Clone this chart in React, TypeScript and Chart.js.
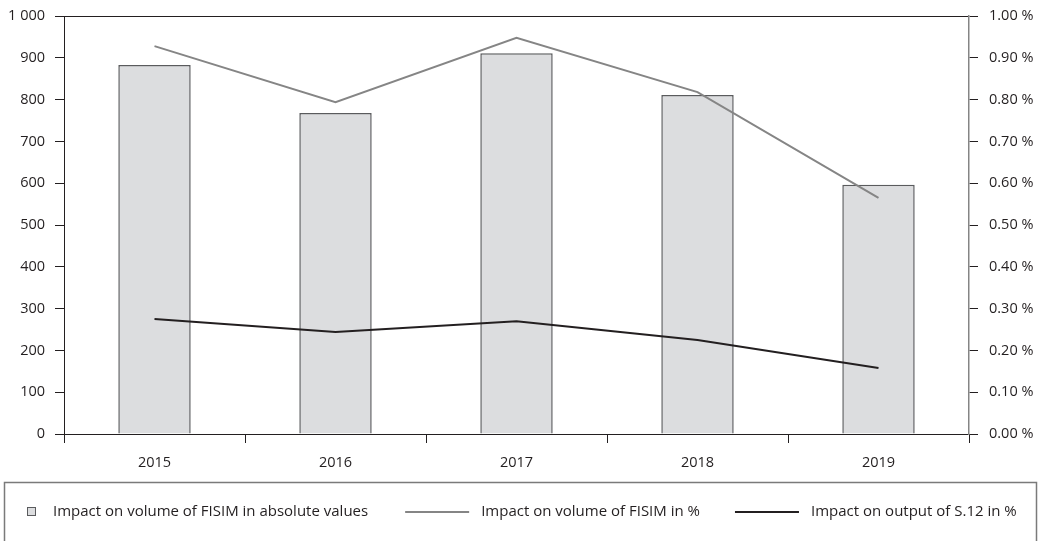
import React, { useEffect, useRef } from "react";
import { Chart, registerables } from "chart.js";

Chart.register(...registerables);

const years = ["2015", "2016", "2017", "2018", "2019"];
const fisimAbsolute = [883, 768, 911, 811, 596];
const fisimPercent = [0.928, 0.794, 0.948, 0.818, 0.565];
const s12Percent = [0.275, 0.244, 0.27, 0.225, 0.158];

const seriesLabels = [
  "Impact on volume of FISIM in absolute values",
  "Impact on volume of FISIM in %",
  "Impact on output of S.12 in %",
];

const FONT = "'Open Sans', sans-serif";
const INK = "#231f20";
const GREY_LINE = "#858585";
const BAR_FILL = "#dcdddf";
const BAR_EDGE = "#5a5b5d";

// Boxed legend drawn under the plot
const boxedLegend = {
  id: "boxedLegend",
  afterDraw(chart: Chart) {
    const ctx = chart.ctx;
    ctx.save();
    ctx.strokeStyle = "#7a7a7a";
    ctx.lineWidth = 1.5;
    ctx.strokeRect(4.5, 482.5, 1032, 90);

    ctx.font = `15px ${FONT}`;
    ctx.fillStyle = INK;
    ctx.textBaseline = "middle";
    const y = 512;
    let x = 27;

    // bar swatch
    ctx.fillStyle = BAR_FILL;
    ctx.fillRect(x, y - 5, 9, 9);
    ctx.strokeStyle = BAR_EDGE;
    ctx.lineWidth = 1;
    ctx.strokeRect(x + 0.5, y - 4.5, 8, 8);
    x = 53;
    ctx.fillStyle = INK;
    ctx.fillText(seriesLabels[0], x, y);
    x += ctx.measureText(seriesLabels[0]).width + 37;

    const lineItems = [
      { color: GREY_LINE, label: seriesLabels[1] },
      { color: INK, label: seriesLabels[2] },
    ];
    lineItems.forEach((it) => {
      ctx.strokeStyle = it.color;
      ctx.lineWidth = 2;
      ctx.beginPath();
      ctx.moveTo(x, y);
      ctx.lineTo(x + 64, y);
      ctx.stroke();
      x += 76;
      ctx.fillStyle = INK;
      ctx.fillText(it.label, x, y);
      x += ctx.measureText(it.label).width + 35;
    });
    ctx.restore();
  },
};

export default function App() {
  const ref = useRef<HTMLCanvasElement>(null);

  useEffect(() => {
    if (!ref.current) return;
    const chart = new Chart(ref.current, {
      type: "bar",
      data: {
        labels: years,
        datasets: [
          {
            type: "bar",
            label: seriesLabels[0],
            data: fisimAbsolute,
            yAxisID: "y",
            backgroundColor: BAR_FILL,
            borderColor: BAR_EDGE,
            borderWidth: 1.5,
            borderSkipped: "bottom",
            barPercentage: 0.4,
            categoryPercentage: 1,
            order: 3,
          },
          {
            type: "line",
            label: seriesLabels[1],
            data: fisimPercent,
            yAxisID: "y1",
            borderColor: GREY_LINE,
            borderWidth: 2,
            pointRadius: 0,
            tension: 0,
            fill: false,
            order: 2,
          },
          {
            type: "line",
            label: seriesLabels[2],
            data: s12Percent,
            yAxisID: "y1",
            borderColor: INK,
            borderWidth: 2,
            pointRadius: 0,
            tension: 0,
            fill: false,
            order: 1,
          },
        ],
      },
      options: {
        animation: false,
        responsive: false,
        maintainAspectRatio: false,
        layout: { padding: { top: 16, bottom: 67, left: 0, right: 0 } },
        plugins: { legend: { display: false }, tooltip: { enabled: false } },
        scales: {
          x: {
            offset: true,
            grid: {
              display: true,
              offset: true,
              drawOnChartArea: false,
              tickColor: INK,
              tickLength: 9,
              tickWidth: 1,
            },
            border: { display: true, color: INK, width: 1 },
            ticks: { color: INK, font: { family: FONT, size: 14.5 }, padding: 11 },
            afterFit(scale: any) {
              scale.height = 40;
            },
          },
          y: {
            position: "left",
            min: 0,
            max: 1000,
            ticks: {
              stepSize: 100,
              color: INK,
              padding: 10,
              font: { family: FONT, size: 14.5 },
              callback: (v: any) => (v >= 1000 ? "1 000" : String(v)),
            },
            grid: {
              drawOnChartArea: true,
              color: (c: any) => (c.tick && c.tick.value === 1000 ? INK : "rgba(0,0,0,0)"),
              tickColor: INK,
              tickLength: 9,
              lineWidth: 1,
            },
            border: { display: true, color: INK, width: 1 },
            afterFit(scale: any) {
              scale.width = 64;
              scale.paddingTop = 0;
              scale.paddingBottom = 0;
            },
          },
          y1: {
            position: "right",
            min: 0,
            max: 1,
            ticks: {
              stepSize: 0.1,
              color: INK,
              padding: 11,
              font: { family: FONT, size: 14.5 },
              callback: (v: any) => `${Number(v).toFixed(2)} %`,
            },
            grid: {
              drawOnChartArea: false,
              tickColor: INK,
              tickLength: 9,
              lineWidth: 1,
            },
            border: { display: true, color: GREY_LINE, width: 1.5 },
            afterFit(scale: any) {
              scale.width = 75;
              scale.paddingTop = 0;
              scale.paddingBottom = 0;
            },
          },
        },
      },
      plugins: [boxedLegend],
    });
    return () => chart.destroy();
  }, []);

  return (
    <div style={{ position: "fixed", left: 0, top: 0, width: 1044, height: 541, background: "#fff" }}>
      <canvas ref={ref} width={1044} height={541} style={{ display: "block" }} />
    </div>
  );
}
